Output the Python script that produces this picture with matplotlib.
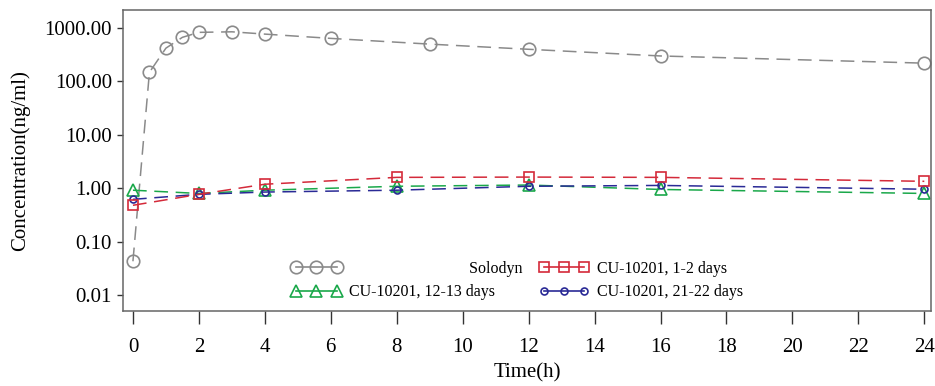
import matplotlib
matplotlib.use("Agg")
import matplotlib.pyplot as plt
from matplotlib.ticker import FixedLocator, FuncFormatter, NullLocator
from matplotlib.lines import Line2D

plt.rcParams['font.family'] = ['Liberation Serif', 'DejaVu Serif']

t_solodyn = [0, 0.5, 1, 1.5, 2, 3, 4, 6, 9, 12, 16, 24]
c_solodyn = [0.043, 148, 420, 670, 830, 850, 770, 640, 500, 400, 300, 220]

t_cu = [0, 2, 4, 8, 12, 16, 24]
c_cu_1_2 = [0.48, 0.77, 1.19, 1.6, 1.62, 1.6, 1.35]
c_cu_12_13 = [0.92, 0.80, 0.92, 1.09, 1.15, 0.95, 0.80]
c_cu_21_22 = [0.62, 0.77, 0.85, 0.92, 1.09, 1.13, 0.96]

labels = ["                              Solodyn", "CU-10201, 1-2 days",
          "CU-10201, 12-13 days", "CU-10201, 21-22 days"]
x_ticks = list(range(0, 25, 2))
y_ticks = [0.01, 0.1, 1, 10, 100, 1000]

fig = plt.figure(figsize=(9.35, 3.86), dpi=100)
ax = fig.add_axes([0.1316, 0.194, 0.864, 0.780])

dash = (0, (9, 5))
lw = 1.1
h_sol, = ax.plot(t_solodyn, c_solodyn, color='#8a8a8a', lw=lw, ls=dash,
                 marker='o', ms=9, mfc='none', mec='#8a8a8a', mew=1.2)
h_12, = ax.plot(t_cu, c_cu_12_13, color='#1aa84a', lw=lw, ls=dash,
                marker='^', ms=9, mfc='none', mec='#1aa84a', mew=1.2)
h_21, = ax.plot(t_cu, c_cu_21_22, color='#2a2a96', lw=lw, ls=dash,
                marker='o', ms=5, mfc='none', mec='#2a2a96', mew=1.2)
h_1, = ax.plot(t_cu, c_cu_1_2, color='#d42a3a', lw=lw, ls=dash,
               marker='s', ms=7, mfc='none', mec='#d42a3a', mew=1.2)

ax.set_yscale('log')
ax.set_xlim(-0.3, 24.2)
ax.set_ylim(10 ** -2.3, 10 ** 3.337)
ax.yaxis.set_major_locator(FixedLocator(y_ticks))
ax.yaxis.set_minor_locator(NullLocator())
ax.yaxis.set_major_formatter(FuncFormatter(lambda v, p: f"{v:.2f}"))
ax.set_xticks(x_ticks)

ax.tick_params(axis='x', direction='out', length=9, width=1, labelsize=15, pad=10, colors='#333333', labelcolor='black')
ax.tick_params(axis='y', direction='out', length=4, width=1, labelsize=15, pad=4, colors='#333333', labelcolor='black')
for s in ax.spines.values():
    s.set_color('#666666')
    s.set_linewidth(1.1)

ax.set_xlabel('Time(h)', fontsize=15, labelpad=5)
ax.set_ylabel('Concentration(ng/ml)', fontsize=15, labelpad=10)


def proxy(h):
    return Line2D([], [], color=h.get_color(), ls='-', lw=1.2, marker=h.get_marker(),
                  ms=h.get_markersize(), mfc='none', mec=h.get_mec(), mew=1.2)


leg = ax.legend([proxy(h_sol), proxy(h_12), proxy(h_1), proxy(h_21)],
                [labels[0], labels[2], labels[1], labels[3]],
                ncol=2, numpoints=3, frameon=False, fontsize=11.5,
                loc='lower left', bbox_to_anchor=(0.2, 0.015),
                handlelength=3.15, handletextpad=0.5, columnspacing=1.0,
                labelspacing=0.45, borderaxespad=0)

fig.savefig('out.png', dpi=100)
